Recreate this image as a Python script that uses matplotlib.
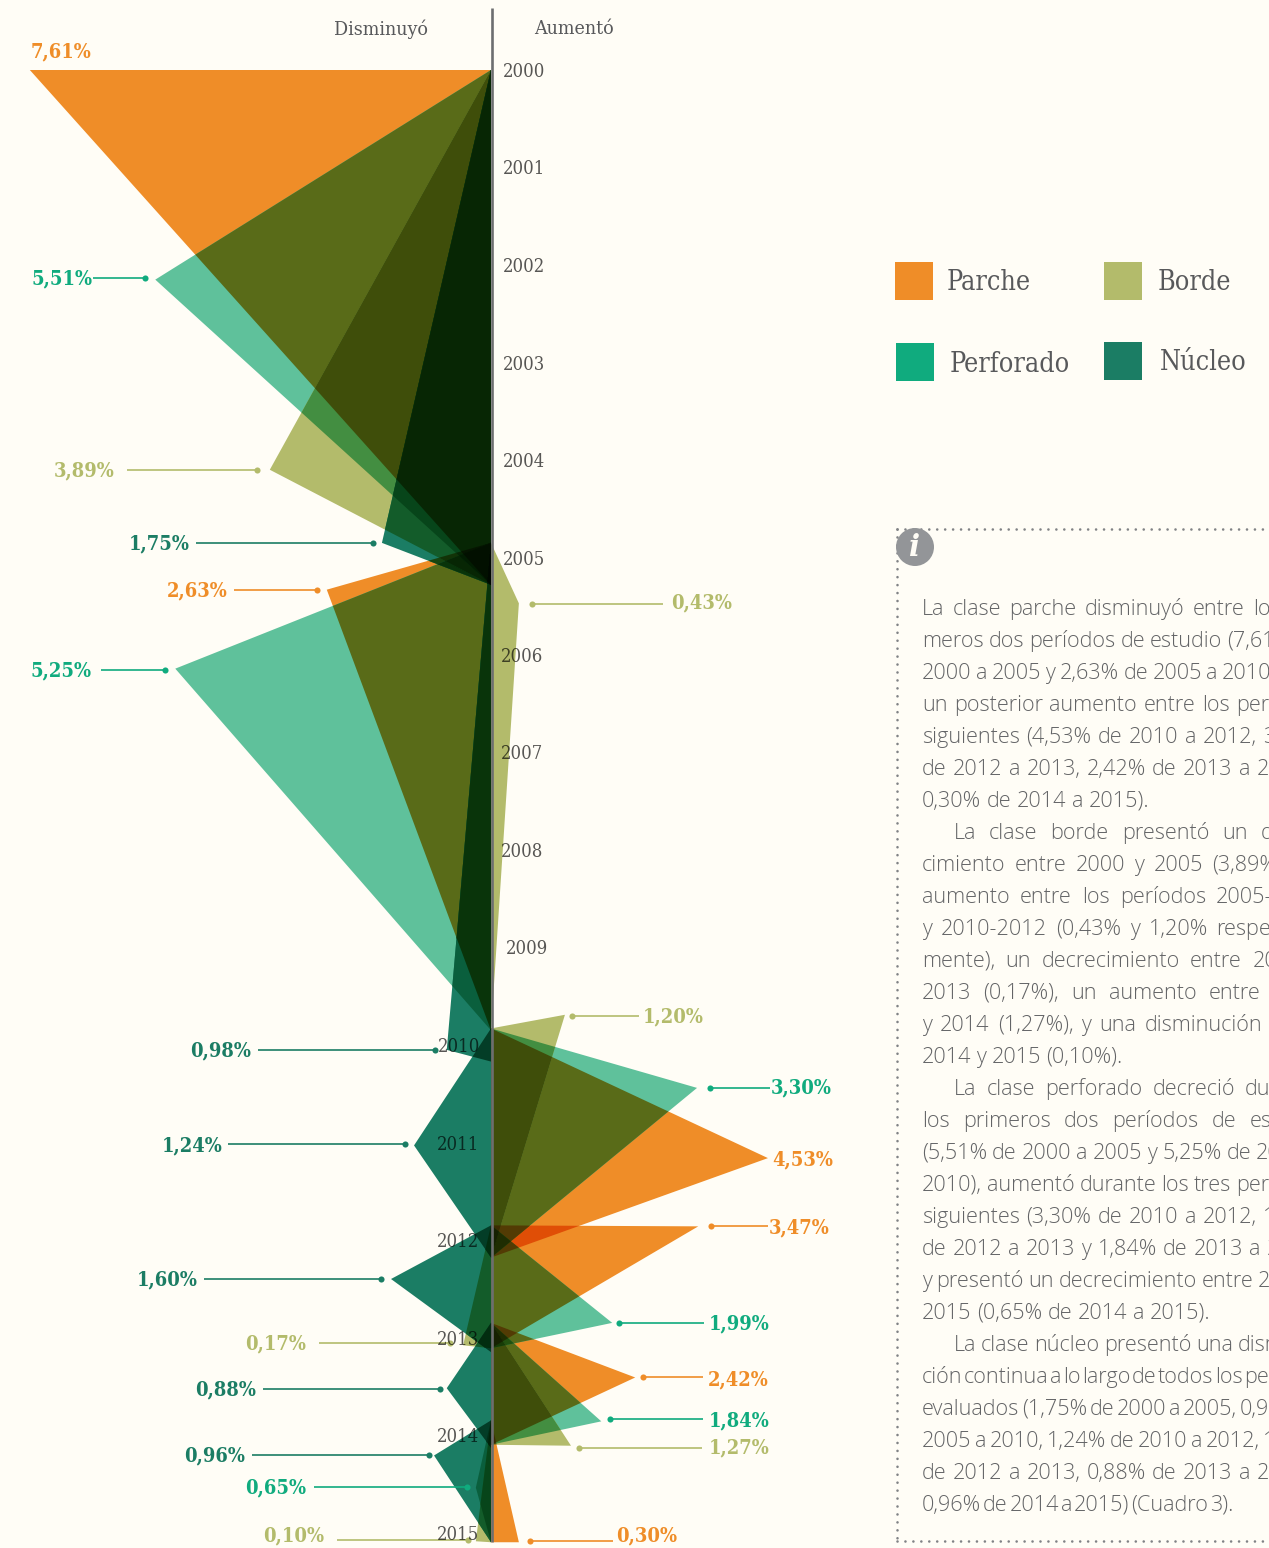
import matplotlib
matplotlib.use('Agg')
import matplotlib.pyplot as plt
from matplotlib.patches import Circle, Rectangle
import numpy as np

BG = '#FFFDF6'
GREY = '#58595B'
ORANGE = '#EF8D28'
OLIVE = '#B3BB6B'
MINT = '#10AB7E'
MINT_FILL = '#5FC19B'
DARK = '#1B7D64'

# each series: apex of every period, drawn position
parche_x = [-7.61, -2.71, 4.57, 3.42, 2.38, 0.46]
parche_y = [2000.00, 2005.33, 2011.16, 2011.86, 2013.41, 2015.10]
perforado_x = [-5.54, -5.21, 3.40, 2.00, 1.82, -0.25]
perforado_y = [2002.15, 2006.14, 2010.44, 2012.85, 2013.86, 2014.54]
borde_x = [-3.65, 0.46, 1.22, -0.46, 1.32, -0.25]
borde_y = [2004.10, 2005.47, 2009.69, 2013.08, 2014.11, 2015.09]
nucleo_x = [-1.80, -0.73, -1.27, -1.65, -0.73, -0.94]
nucleo_y = [2004.85, 2010.05, 2011.03, 2012.40, 2013.52, 2014.21]

period_top = [2000.00, 2004.85, 2009.83, 2011.85, 2012.85, 2013.85]
period_bottom = [2005.28, 2009.85, 2012.18, 2013.11, 2014.10, 2015.10]
nucleo_bottom = [2005.28, 2010.17, 2012.18, 2013.15, 2014.13, 2015.10]

years = list(range(2000, 2016))
year_px = [(524, 70), (524, 167), (524, 265), (524, 363), (524, 460), (524, 558),
           (522, 655), (522, 752), (522, 850), (527, 947), (459, 1045), (458, 1143),
           (458, 1240), (458, 1338), (458, 1435), (458, 1533)]

# text, colour, text x, text y, leader start, leader end, leader y, dot x
labels = [
    ('7,61%', ORANGE, 61, 51, None, None, None, None),
    ('5,51%', MINT, 62, 278, 93, 145, 278, 145),
    ('3,89%', OLIVE, 84, 470, 127, 257, 470, 257),
    ('1,75%', DARK, 159, 543, 196, 373, 543, 373),
    ('2,63%', ORANGE, 197, 590, 234, 317, 590, 317),
    ('5,25%', MINT, 61, 670, 101, 165, 670, 165),
    ('0,43%', OLIVE, 702, 602, 532, 663, 604, 532),
    ('1,20%', OLIVE, 673, 1016, 572, 639, 1016, 572),
    ('3,30%', MINT, 801, 1087, 710, 770, 1088, 710),
    ('4,53%', ORANGE, 803, 1159, None, None, None, None),
    ('3,47%', ORANGE, 799, 1227, 711, 768, 1226, 711),
    ('0,98%', DARK, 221, 1050, 258, 435, 1050, 435),
    ('1,24%', DARK, 192, 1145, 228, 405, 1144, 405),
    ('1,60%', DARK, 167, 1279, 204, 381, 1279, 381),
    ('1,99%', MINT, 739, 1323, 619, 704, 1323, 619),
    ('0,17%', OLIVE, 276, 1343, 319, 450, 1343, 450),
    ('2,42%', ORANGE, 738, 1379, 643, 703, 1377, 643),
    ('0,88%', DARK, 226, 1389, 263, 440, 1389, 440),
    ('1,84%', MINT, 739, 1420, 610, 703, 1419, 610),
    ('1,27%', OLIVE, 739, 1447, 579, 702, 1448, 579),
    ('0,96%', DARK, 215, 1455, 252, 429, 1455, 429),
    ('0,65%', MINT, 276, 1487, 314, 467, 1487, 467),
    ('0,10%', OLIVE, 294, 1535, 337, 468, 1540, 468),
    ('0,30%', ORANGE, 647, 1535, 530, 613, 1541, 530),
]

legend_items = [('Parche', ORANGE, 895, 262, 947, 283), ('Borde', OLIVE, 1104, 262, 1158, 283),
                ('Perforado', MINT, 896, 343, 950, 364), ('Núcleo', DARK, 1104, 342, 1160, 363)]

# (text, indent, word gap; None means justified to the column edge)
body_lines = [
    ('La clase parche disminuyó entre los pri-', 0, None),
    ('meros dos períodos de estudio (7,61% de', 0, None),
    ('2000 a 2005 y 2,63% de 2005 a 2010), con', 0, None),
    ('un posterior aumento entre los períodos', 0, None),
    ('siguientes (4,53% de 2010 a 2012, 3,47%', 0, None),
    ('de 2012 a 2013, 2,42% de 2013 a 2014 y', 0, None),
    ('0,30% de 2014 a 2015).', 0, 5.5),
    ('La clase borde presentó un decre-', 32, None),
    ('cimiento entre 2000 y 2005 (3,89%), un', 0, None),
    ('aumento entre los períodos 2005-2010', 0, None),
    ('y 2010-2012 (0,43% y 1,20% respectiva-', 0, None),
    ('mente), un decrecimiento entre 2012 y', 0, None),
    ('2013 (0,17%), un aumento entre 2013', 0, None),
    ('y 2014 (1,27%), y una disminución entre', 0, None),
    ('2014 y 2015 (0,10%).', 0, 5.0),
    ('La clase perforado decreció durante', 32, None),
    ('los primeros dos períodos de estudio', 0, None),
    ('(5,51% de 2000 a 2005 y 5,25% de 2005 a', 0, None),
    ('2010), aumentó durante los tres períodos', 0, None),
    ('siguientes (3,30% de 2010 a 2012, 1,99%', 0, None),
    ('de 2012 a 2013 y 1,84% de 2013 a 2014)', 0, None),
    ('y presentó un decrecimiento entre 2014 y', 0, None),
    ('2015 (0,65% de 2014 a 2015).', 0, 5.5),
    ('La clase núcleo presentó una disminu-', 32, None),
    ('ción continua a lo largo de todos los períodos', 0, 1.5),
    ('evaluados (1,75% de 2000 a 2005, 0,98% de', 0, 2.6),
    ('2005 a 2010, 1,24% de 2010 a 2012, 1,60%', 0, None),
    ('de 2012 a 2013, 0,88% de 2013 a 2014 y', 0, None),
    ('0,96% de 2014 a 2015) (Cuadro 3).', 0, 1.8),
]


def clip(poly, tri):
    # Sutherland-Hodgman, both are convex
    area = sum(tri[i][0] * tri[(i + 1) % 3][1] - tri[(i + 1) % 3][0] * tri[i][1] for i in range(3))
    sign = 1 if area > 0 else -1
    out = poly
    for i in range(3):
        a, b = tri[i], tri[(i + 1) % 3]
        side = lambda p: sign * ((b[0] - a[0]) * (p[1] - a[1]) - (b[1] - a[1]) * (p[0] - a[0]))
        cur, out = out, []
        for k in range(len(cur)):
            p, q = cur[k], cur[(k + 1) % len(cur)]
            sp, sq = side(p), side(q)
            if sp >= 0:
                out.append(p)
            if sp * sq < 0:
                t = sp / (sp - sq)
                out.append((p[0] + t * (q[0] - p[0]), p[1] + t * (q[1] - p[1])))
        if not out:
            return []
    return out


def poly_area(poly):
    return abs(sum(poly[i][0] * poly[(i + 1) % len(poly)][1] - poly[(i + 1) % len(poly)][0] * poly[i][1]
                   for i in range(len(poly)))) / 2


def triangles():
    tris = []
    for xs, ys, bottoms, col in [(parche_x, parche_y, period_bottom, ORANGE),
                                 (perforado_x, perforado_y, period_bottom, MINT_FILL),
                                 (borde_x, borde_y, period_bottom, OLIVE),
                                 (nucleo_x, nucleo_y, nucleo_bottom, DARK)]:
        for i in range(len(xs)):
            tris.append(([(0, period_top[i]), (xs[i], ys[i]), (0, bottoms[i])],
                         np.array(matplotlib.colors.to_rgb(col))))
    return tris


def draw_multiply(ax, tris):
    # the original multiplies its layers, so paint every overlap with the product colour
    pieces = []

    def walk(poly, col, start, depth):
        pieces.append((depth, poly, col))
        for j in range(start, len(tris)):
            sub = clip(poly, tris[j][0])
            if len(sub) > 2 and poly_area(sub) > 1e-5:
                walk(sub, col * tris[j][1], j + 1, depth + 1)

    for i, (tri, col) in enumerate(tris):
        walk(tri, col, i + 1, 1)
    for depth, poly, col in sorted(pieces, key=lambda p: p[0]):
        ax.fill([p[0] for p in poly], [p[1] for p in poly], color=tuple(col), lw=0, zorder=depth)


def draw_body(ov, fig):
    rend = fig.canvas.get_renderer()
    size = 15.6
    for i, (line, indent, gap) in enumerate(body_lines):
        y = 607 + 32 * i
        x0 = 922 + indent
        words = line.split(' ')
        arts = [ov.text(x0, y, w, fontsize=size, family='Open Sans', weight='light', color='#636466',
                        va='center_baseline', ha='left') for w in words]
        widths = [a.get_window_extent(rend).width for a in arts]
        space = gap
        if gap is None:
            space = max(3.0, (1322 - x0 - sum(widths)) / (len(words) - 1))
        x = x0
        for a, w in zip(arts, widths):
            a.set_x(x)
            x += w + space


def main():
    fig = plt.figure(figsize=(12.69, 15.48), dpi=100, facecolor=BG)
    ax = fig.add_axes([0, 0, 1, 1])
    ax.set_xlim(-491 / 60.6, (1269 - 491) / 60.6)
    ax.set_ylim(2000 + (1548 - 70) / 97.5, 2000 - 70 / 97.5)
    ax.axis('off')
    draw_multiply(ax, triangles())

    ov = fig.add_axes([0, 0, 1, 1], zorder=5)
    ov.set_xlim(0, 1269)
    ov.set_ylim(1548, 0)
    ov.axis('off')
    serif = dict(family='DejaVu Serif', stretch='condensed')

    ov.plot([491.5, 491.5], [8, 1542], color='#6D6E70', lw=1.9, solid_capstyle='butt')
    ov.text(381, 29, 'Disminuyó', fontsize=14.0, color=GREY, ha='center', va='center', **serif)
    ov.text(574, 29, 'Aumentó', fontsize=14.0, color=GREY, ha='center', va='center', **serif)
    for yr, (x, y) in zip(years, year_px):
        # black with alpha darkens over the shapes the way the original's multiply does
        ov.text(x, y + 2, str(yr), fontsize=13.2, color='black', alpha=0.66, ha='center', va='center', **serif)

    for text, col, tx, ty, x0, x1, ly, dot in labels:
        ov.text(tx, ty, text, fontsize=14.4, weight='bold', color=col, ha='center', va='center', **serif)
        if x0 is not None:
            ov.plot([x0, x1], [ly, ly], color=col, lw=1.2, solid_capstyle='butt')
            ov.plot([dot], [ly], 'o', color=col, ms=4.4, mew=0)

    for name, col, x, y, tx, ty in legend_items:
        ov.add_patch(Rectangle((x, y), 38, 38, color=col, lw=0))
        ov.text(tx, ty, name, fontsize=19.3, color=GREY, ha='left', va='center', **serif)

    dots = dict(color='#808285', lw=1.9, linestyle=(0, (0.01, 3.0)), dash_capstyle='round')
    ov.plot([897, 1269], [529, 529], **dots)
    ov.plot([897, 897], [529, 1541], **dots)
    ov.plot([897, 1269], [1541, 1541], **dots)
    ov.add_patch(Circle((915, 547), 19, color='#939598', lw=0, zorder=6))
    ov.text(915, 547, 'i', fontsize=21, family='DejaVu Serif', weight='bold', style='italic',
            color=BG, ha='center', va='center', zorder=7)

    draw_body(ov, fig)
    fig.savefig('out.png', dpi=100, facecolor=BG)


if __name__ == "__main__":
    main()
